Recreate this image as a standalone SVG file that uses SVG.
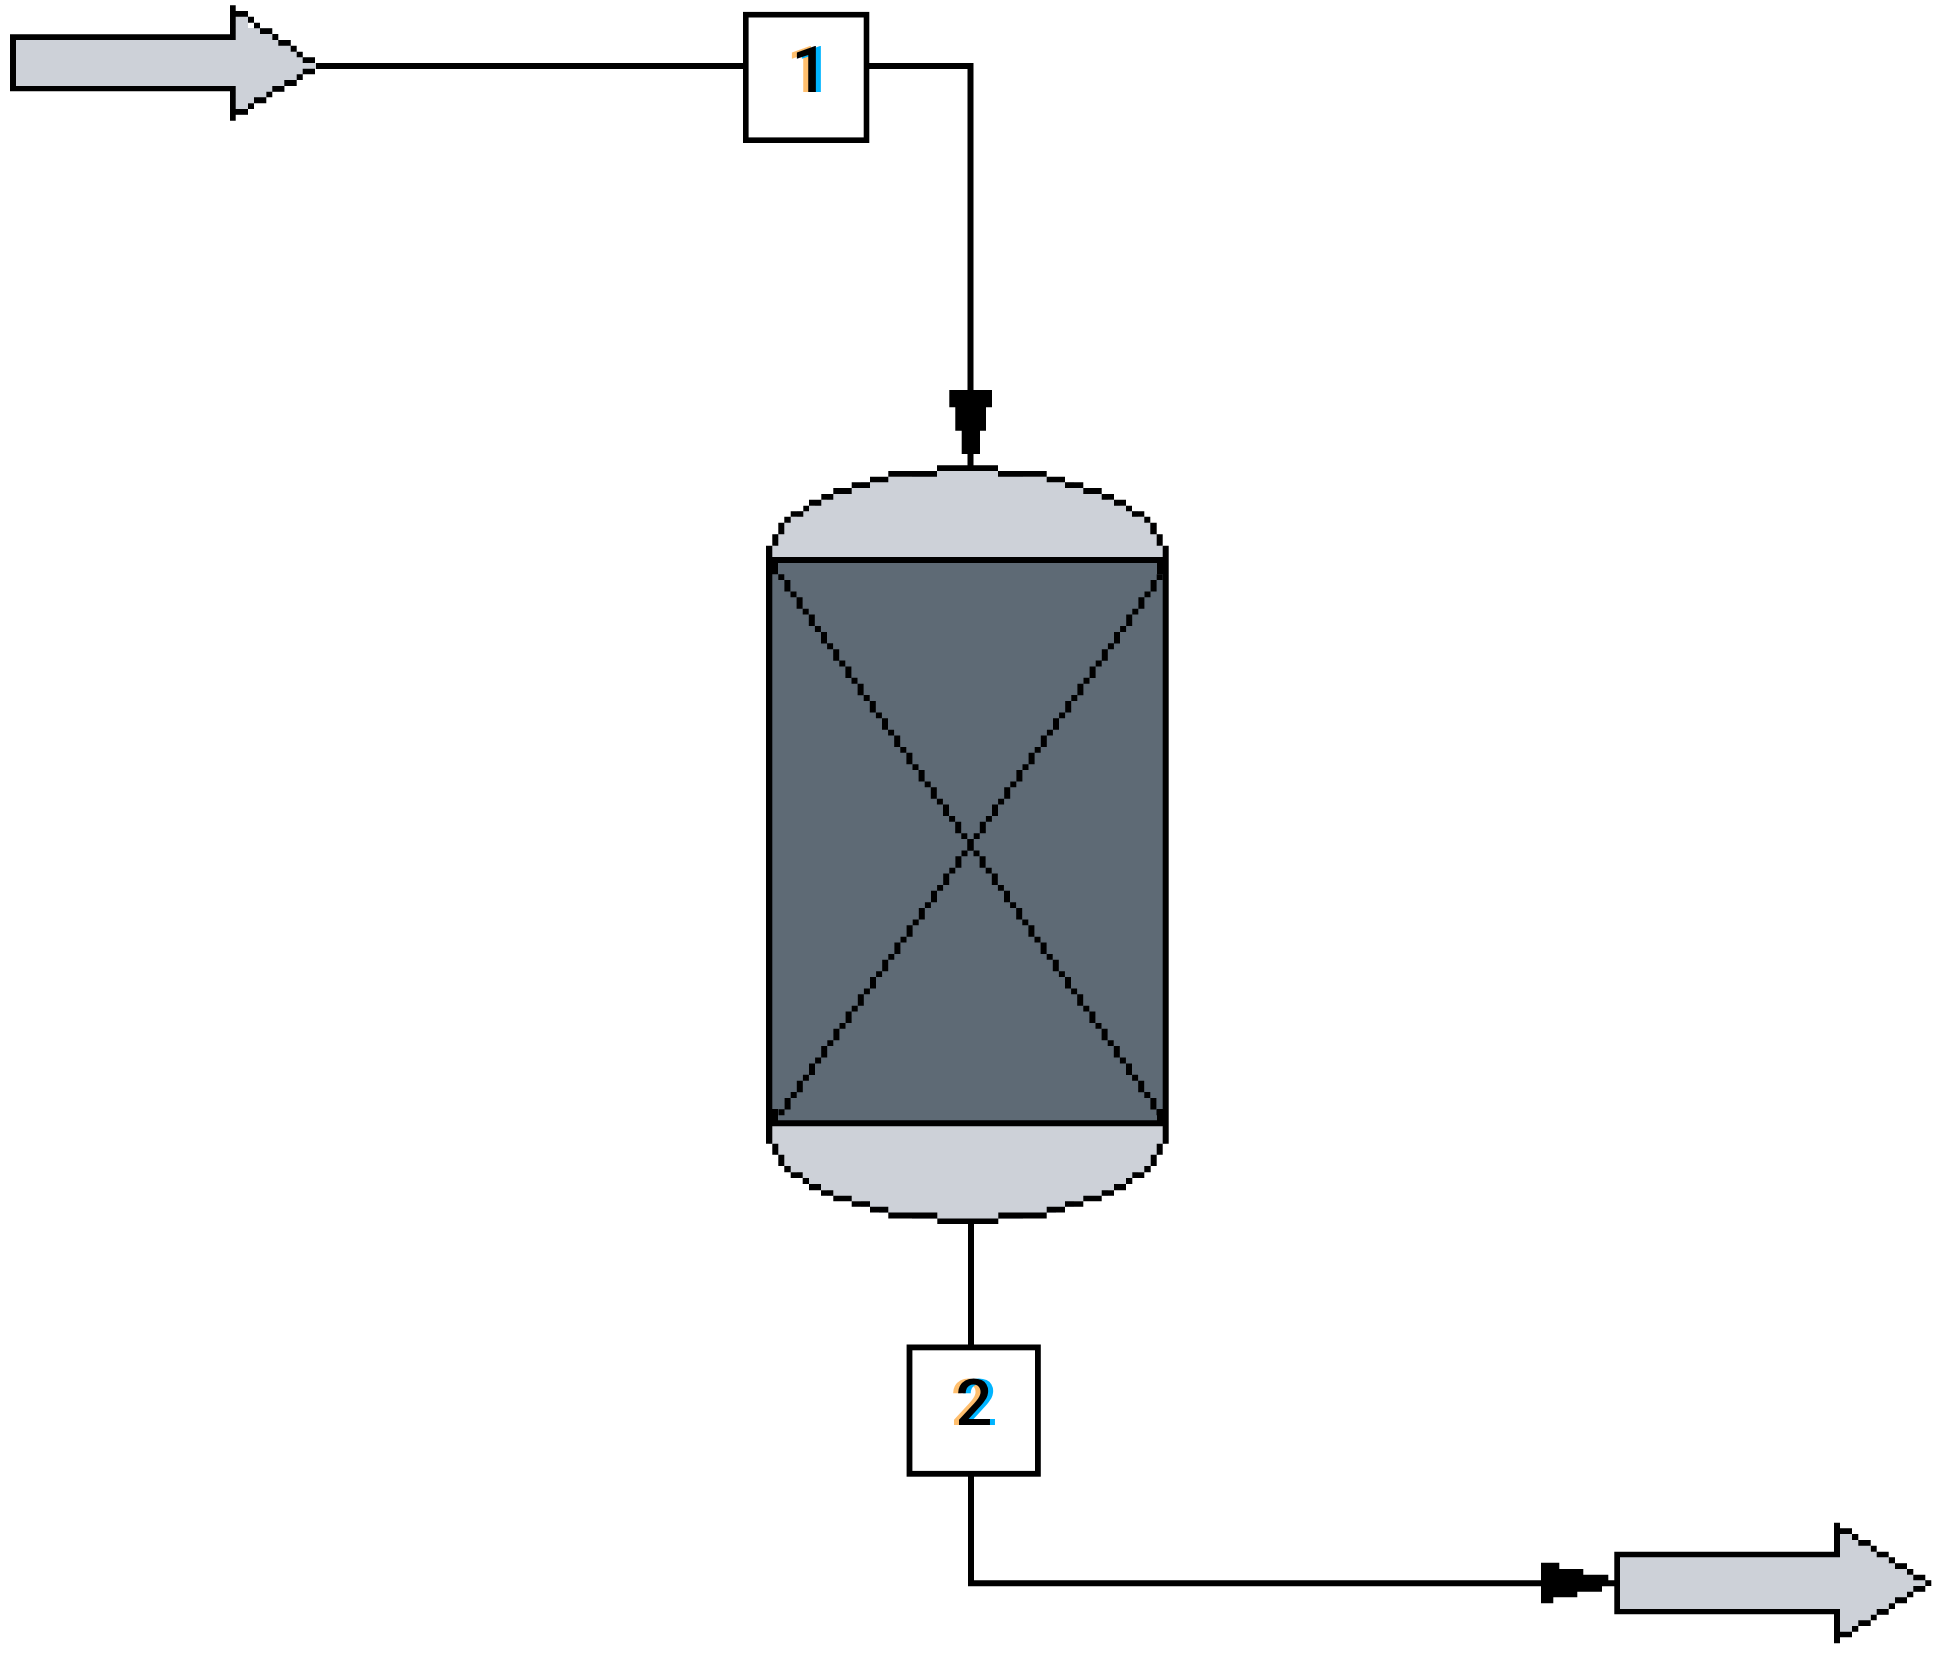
<svg xmlns="http://www.w3.org/2000/svg" xmlns:xlink="http://www.w3.org/1999/xlink" width="1942" height="1662" viewBox="0 0 1942 1662">
<style>
.light{fill:#cdd1d8}
.dark{fill:#5e6a75}
.ink{fill:#000}
.wire{fill:none;stroke:#000;stroke-width:6}
.box{fill:#fff;stroke:#000}
.num{font-family:Roboto,"Liberation Sans",sans-serif;font-size:65px;font-weight:500;text-anchor:middle;fill:#000;filter:url(#fringe)}
</style>
<defs>
<filter id="fringe" x="-60%" y="-20%" width="220%" height="140%" color-interpolation-filters="sRGB">
<feOffset in="SourceAlpha" dx="-5" result="l"/>
<feFlood flood-color="#ffbf6e"/><feComposite in2="l" operator="in" result="or"/>
<feOffset in="SourceAlpha" dx="5" result="r"/>
<feFlood flood-color="#00b4ff"/><feComposite in2="r" operator="in" result="bl"/>
<feMerge><feMergeNode in="or"/><feMergeNode in="bl"/><feMergeNode in="SourceGraphic"/></feMerge>
</filter>
<path id="diag" class="ink" d="M778.3 574.3
h6v5.8h-6zm6.1 5.8h6v11.5h-6zm6.1 11.46h6v5.8h-6zm6.1 5.8h6v11.5h-6zm6.1 11.46h6v5.8h-6zm6.1 5.8h6v11.5h-6zm6.1 11.46h6v5.8h-6zm6.1 5.8h6v11.5h-6zm6.1 11.46
h6v5.8h-6zm6.1 5.8h6v11.5h-6zm6.1 11.46h6v5.8h-6zm6.1 5.8h6v11.5h-6zm6.1 11.46h6v5.8h-6zm6.1 5.8h6v11.5h-6zm6.1 11.46h6v5.8h-6zm6.1 5.8h6v11.5h-6zm6.1 11.46
h6v5.8h-6zm6.1 5.8h6v11.5h-6zm6.1 11.46h6v5.8h-6zm6.1 5.8h6v11.5h-6zm6.1 11.46h6v5.8h-6zm6.1 5.8h6v11.5h-6zm6.1 11.46h6v5.8h-6zm6.1 5.8h6v11.5h-6zm6.1 11.46
h6v5.8h-6zm6.1 5.8h6v11.5h-6zm6.1 11.46h6v5.8h-6zm6.1 5.8h6v11.5h-6zm6.1 11.46h6v5.8h-6zm6.1 5.8h6v11.5h-6zm6.1 11.46h6v5.8h-6zm6.1 5.8h6v11.5h-6zm6.1 11.46
h6v5.8h-6zm6.1 5.8h6v11.5h-6zm6.1 11.46h6v5.8h-6zm6.1 5.8h6v11.5h-6zm6.1 11.46h6v5.8h-6zm6.1 5.8h6v11.5h-6zm6.1 11.46h6v5.8h-6zm6.1 5.8h6v11.5h-6zm6.1 11.46
h6v5.8h-6zm6.1 5.8h6v11.5h-6zm6.1 11.46h6v5.8h-6zm6.1 5.8h6v11.5h-6zm6.1 11.46h6v5.8h-6zm6.1 5.8h6v11.5h-6zm6.1 11.46h6v5.8h-6zm6.1 5.8h6v11.5h-6zm6.1 11.46
h6v5.8h-6zm6.1 5.8h6v11.5h-6zm6.1 11.46h6v5.8h-6zm6.1 5.8h6v11.5h-6zm6.1 11.46h6v5.8h-6zm6.1 5.8h6v11.5h-6zm6.1 11.46
h6v5.8h-6zm6.1 5.8h6v11.5h-6zm6.1 11.46h6v5.8h-6zm6.1 5.8h6v11.5h-6zm6.1 11.46h6v5.8h-6zm6.1 5.8h6v11.5h-6zm6.1 11.46h6v5.8h-6zm6.1 5.8h6v11.5h-6zm6.1 11.46
h6v5.8h-6z"/>
</defs>
<rect width="1942" height="1662" fill="#fff"/>

<g id="connectors">
<path class="wire" d="M316 66H746"/>
<path class="wire" d="M866 66H970.5V466"/>
<path class="ink" d="M949.3 390H992V407.3H986V430.7H980V454H961.7V430.7H955.3V407.3H949.3Z"/>
<path class="wire" d="M971 1222V1346"/>
<path class="wire" d="M971 1475V1583.2H1616"/>
<path class="ink" d="M1541 1562.7H1559.3V1569H1583.3V1574.7H1608.3V1586H1602V1591.7H1577.3V1597.3H1553.3V1603.3H1541Z"/>
</g>

<g id="feed">
<path class="light" d="M13 37H233V11H248V28H272V40H291V52H303V63H316V69H303V80H285V92H266V103H248V115H233V89H13Z"/>
<path class="ink" d="M10 34.3H230V5.3H235.7V11H248V16.7H235.7V40H16V86H235.7V109H248V114.7H235.7V120.7H230V91.3H10Z
M248 16.7h6v6h-6zM254 22.7h6v5.6h-6zM260 28.3h12.3v5.7h-12.3zM272.3 34h6v6h-6zM278.3 40h12.4v5.7h-12.4zM290.7 45.7h6v6h-6zM296.7 51.7h6v5.6h-6zM302.7 57.3H315V63H302.7zM302.7 68.7H315V74.3H302.7zM296.7 74.3h6V80h-6zM284.3 80h12.4v6h-12.4zM272.3 86h12v5.7h-12zM266.3 91.7h6v5.6h-6zM254 97.3h12.3v6H254zM248 103.3h6V109h-6z"/>
</g>

<g id="box-1">
<rect class="box" x="745.8" y="14.7" width="120.7" height="125.5" stroke-width="5.6"/>
<text class="num" x="810" y="92">1</text>
</g>

<g id="vessel">
<path class="light" d="M769 560V546H775V534H781V523H787V517H797V511H806V506H815V500H827V494H842V488H861V482H879V477H912V471H1023V477H1056V482H1074V488H1092V494H1108V500H1120V506H1129V511H1138V517H1147V523H1153V534H1160V546H1166V560Z"/>
<path class="light" d="M769 1123V1144H775V1155H781V1166H787V1172H797V1178H806V1184H815V1190H827V1196H842V1201H861V1207H879V1213H912V1219H1023V1213H1056V1207H1074V1201H1092V1196H1108V1190H1120V1184H1129V1178H1138V1172H1147V1166H1153V1155H1160V1144H1166V1123Z"/>
<rect class="dark" x="769" y="560" width="397" height="563"/>
<use xlink:href="#diag" href="#diag"/>
<use xlink:href="#diag" href="#diag" transform="translate(1941 0) scale(-1 1)"/>
<path class="ink" d="M766 545.7H772.3V1143.7H766ZM1162.7 545.7H1168.7V1143.7H1162.7ZM772 557H1163V563H772ZM772 1120.3H1163V1126.3H772ZM772 563h6v11.3h-6zM772 1109h6v11.3h-6zM1157 563h6v11.3h-6zM1157 1109h6v11.3h-6z"/>
<path class="ink" d="M772.3 534.3h6v11.4h-6zM778.3 522.7h6v11.6h-6zM784.3 516.7h6.4v6h-6.4zM790.7 511.3h12.6v5.4h-12.6zM803.3 505.7h5.7v5.6h-5.7zM809 499.7h12.3v6H809zM821.3 494h12v5.7h-12zM833.3 488h18.4v6h-18.4zM851.7 482.3H870V488H851.7zM870 476.7h18.3v5.6H870zM888.3 471H937v5.7H888.3zM937 465.3h61V471h-61zM998 471h48.7v5.7H998zM1046.7 476.7H1065v5.6h-18.3zM1065 482.3h18.3V488H1065zM1083.3 488h18.4v6h-18.4zM1101.7 494H1114v5.7h-12.3zM1114 499.7h12v6h-12zM1126 505.7h6v5.6h-6zM1132 511.3h12.3v5.4H1132zM1144.3 516.7h6v6h-6zM1150.3 522.7h6.4v11.6h-6.4zM1156.7 534.3h6v11.4h-6z"/>
<path class="ink" d="M772.3 1143.7h6v11h-6zM778.3 1154.7h6v11.4h-6zM784.3 1166.1h6.4v6.2h-6.4zM790.7 1172.3h12v5.8h-12zM802.7 1178.1h6.3v5.9h-6.3zM809 1184h12v6.2h-12zM821 1190.2h12.3v5.5H821zM833.3 1195.7h18.4v5.5h-18.4zM851.7 1201.2H870v5.5h-18.3zM870 1206.7h18.3v5.9H870zM888.3 1212.6h49v5.8h-49zM937.3 1218.4h61v5.5h-61zM998.3 1212.6h48.4v5.8h-48.4zM1046.7 1206.7H1065v5.9h-18.3zM1065 1201.2h18.3v5.5H1065zM1083.3 1195.7h18.4v5.5h-18.4zM1101.7 1190.2H1114v5.5h-12.3zM1114 1184h12v6.2h-12zM1126 1178.1h6.3v5.9H1126zM1132.3 1172.3h12v5.8h-12zM1144.3 1166.1h6.4v6.2h-6.4zM1150.7 1154.7h6v11.4h-6zM1156.7 1143.7h6v11h-6z"/>
</g>

<g id="box-2">
<rect class="box" x="909.5" y="1347.4" width="128.4" height="126.4" stroke-width="5.8"/>
<text class="num" x="974" y="1425">2</text>
</g>

<g id="product">
<path class="light" d="M1617 1554.5H1837V1531H1852V1540H1870V1552H1888V1563H1907V1575H1925V1580H1931V1586H1925V1592H1907V1603H1888V1615H1870V1626H1852V1634H1837V1611.7H1617Z"/>
<path class="ink" d="M1614.3 1551.7H1834V1522.7H1840V1528.3H1852V1534H1840V1557.3H1620V1609H1840V1631.7H1852V1637.3H1840V1643.3H1834V1614.3H1614.3Z
M1852 1534h6.3v6H1852zM1858.3 1540h12.4v5.7h-12.4zM1870.7 1545.7h6v6h-6zM1876.7 1551.7h12v5.6h-12zM1888.7 1557.3h6.3v6h-6.3zM1895 1563.3h12v5.7h-12zM1907 1569h6.3v5.7H1907zM1913.3 1574.7h12v5.6h-12zM1925.3 1580.3h6v5.7h-6zM1913.3 1586h12v5.7h-12zM1907 1591.7h6.3v5.6H1907zM1895 1597.3h12v6h-12zM1888.7 1603.3h6.3v5.7h-6.3zM1876.7 1609h12v5.7h-12zM1870.7 1614.7h6v5.6h-6zM1858.3 1620.3h12.4v5.7h-12.4zM1852 1626h6.3v5.7H1852z"/>
</g>
</svg>
